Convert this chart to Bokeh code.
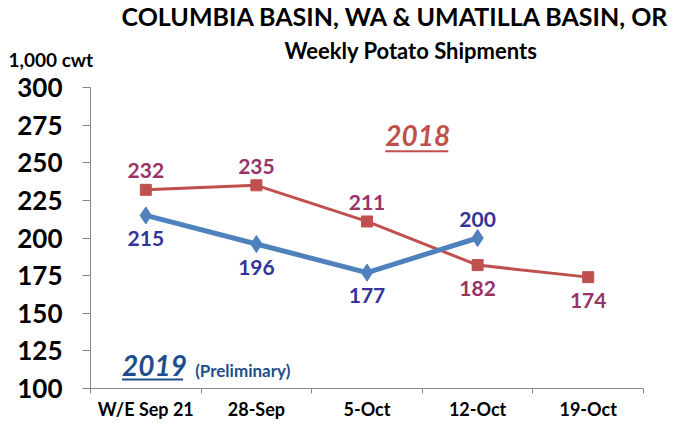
from bokeh.plotting import figure
from bokeh.models import (ColumnDataSource, LabelSet, Label, Range1d, FixedTicker, Title)
from bokeh.core.properties import value
from bokeh.embed import file_html
from bokeh.resources import INLINE

categories = ["W/E Sep 21", "28-Sep", "5-Oct", "12-Oct", "19-Oct"]
values_2018 = [232, 235, 211, 182, 174]
values_2019 = [215, 196, 177, 200]
pos_2018 = ["above", "above", "above", "below", "below"]
pos_2019 = ["below", "below", "below", "above"]
y_ticks = [100, 125, 150, 175, 200, 225, 250, 275, 300]

FONT = "Lato"
x_pos = [i + 0.5 for i in range(len(categories))]

p = figure(width=677, height=422, output_backend="svg", toolbar_location=None,
           x_range=Range1d(0, len(categories)), y_range=Range1d(100, 300),
           min_border_left=90, min_border_right=34, min_border_top=87,
           min_border_bottom=34, outline_line_color=None)
p.xgrid.visible = False
p.ygrid.visible = False
p.title.standoff = 0

# y axis
ya = p.yaxis[0]
ya.ticker = FixedTicker(ticks=y_ticks)
ya.axis_line_color = "#868686"
ya.major_tick_line_color = "#868686"
ya.major_tick_out = 8
ya.major_tick_in = 0
ya.minor_tick_line_color = None
ya.major_label_text_font = FONT
ya.major_label_text_font_style = "bold"
ya.major_label_text_font_size = "26px"
ya.major_label_text_color = "black"
ya.major_label_standoff = 20

# x axis
xa = p.xaxis[0]
xa.ticker = FixedTicker(ticks=x_pos, minor_ticks=list(range(len(categories) + 1)))
xa.major_label_overrides = {x: c for x, c in zip(x_pos, categories)}
xa.axis_line_color = "#868686"
xa.major_tick_line_color = None
xa.major_tick_out = 0
xa.major_tick_in = 0
xa.minor_tick_line_color = "#868686"
xa.minor_tick_out = 5
xa.minor_tick_in = 0
xa.major_label_text_font = FONT
xa.major_label_text_font_style = "bold"
xa.major_label_text_font_size = "18px"
xa.major_label_text_color = "black"
xa.major_label_standoff = 4

off = {"above": 19, "below": -23}
s18 = ColumnDataSource(dict(x=x_pos[:len(values_2018)], y=values_2018,
                            t=[str(v) for v in values_2018],
                            dy=[off[q] for q in pos_2018]))
s19 = ColumnDataSource(dict(x=x_pos[:len(values_2019)], y=values_2019,
                            t=[str(v) for v in values_2019],
                            dy=[off[q] for q in pos_2019]))

p.line("x", "y", source=s18, line_color="#C0504D", line_width=3)
p.scatter("x", "y", source=s18, marker="square", size=11, fill_color="#C0504D",
          line_color="#C0504D")
p.line("x", "y", source=s19, line_color="#4F81BD", line_width=5)
p.scatter("x", "y", source=s19, marker="diamond", size=17, fill_color="#4F81BD",
          line_color="#4F81BD")

for src, col in ((s18, "#993366"), (s19, "#333399")):
    p.add_layout(LabelSet(x="x", y="y", text="t", source=src, y_offset="dy",
                          text_align="center", text_baseline="middle",
                          text_font=value(FONT), text_font_style="bold",
                          text_font_size="21px", text_color=col))

def lab(x, y, text, size, color="black", style="bold"):
    p.add_layout(Label(x=x, y=y, text=text, text_align="left",
                       text_baseline="middle", text_font=FONT,
                       text_font_style=style, text_font_size=size,
                       text_color=color))

def title_row(text, size, offset, standoff):
    p.add_layout(Title(text=text, align="left", offset=offset, text_font=FONT,
                       text_font_style="bold", text_font_size=size,
                       text_color="black", standoff=standoff), "above")

# title rows (first added sits closest to the plot)
title_row("1,000 cwt", "19px", -82, 34)
title_row("Weekly Potato Shipments", "22px", 194, -71)
title_row("COLUMBIA BASIN, WA & UMATILLA BASIN, OR", "25px", 31, -4)

lab(2.665, 268.3, "2018", "28px", color="#C0504D", style="bold italic")
lab(0.285, 115.2, "2019", "28px", color="#1F4E8C", style="bold italic")
lab(0.946, 111.9, "(Preliminary)", "17px", color="#1F4E8C")

# underlines of the year captions
ul = ColumnDataSource(dict(x0=[2.665, 0.285], x1=[3.235, 0.837], y0=[257.6, 105.9],
                           y1=[257.6, 105.9], c=["#C0504D", "#1F4E8C"]))
p.segment("x0", "y0", "x1", "y1", source=ul, line_color="c", line_width=2)

open("out.html", "w").write(file_html(p, INLINE))
